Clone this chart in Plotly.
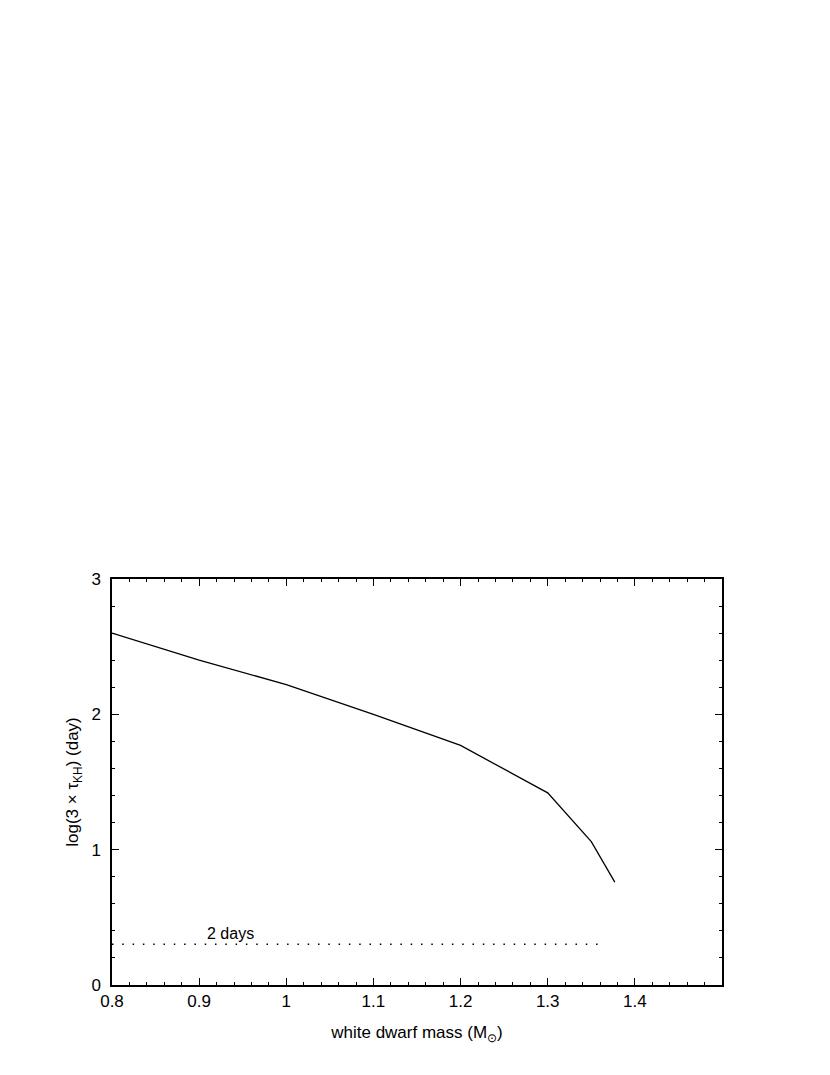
import plotly.graph_objects as go

# white dwarf mass (Msun) vs log(3 x tau_KH) in days
mass = [0.8, 0.9, 1.0, 1.1, 1.2, 1.3, 1.35, 1.377]
log_tkh = [2.6, 2.40, 2.22, 2.0, 1.77, 1.42, 1.06, 0.76]

# "2 days" reference level
ref_x = [0.8, 1.36]
ref_y = [0.301, 0.301]
ref_label = "2 days"

x_ticks = [0.8, 0.9, 1.0, 1.1, 1.2, 1.3, 1.4]
x_ticklabels = ["0.8", "0.9", "1", "1.1", "1.2", "1.3", "1.4"]
y_ticks = [0, 1, 2, 3]

FONT = "Liberation Sans, Arial, sans-serif"

fig = go.Figure()
fig.add_trace(go.Scatter(
    x=mass, y=log_tkh, mode="lines",
    line=dict(color="black", width=1.3),
    showlegend=False, hoverinfo="skip"
))
fig.add_trace(go.Scatter(
    x=ref_x, y=ref_y, mode="lines",
    line=dict(color="black", width=1.3, dash="1.5px,8.8px"),
    showlegend=False, hoverinfo="skip"
))
fig.add_annotation(
    x=0.936, y=0.38, text=ref_label, showarrow=False,
    font=dict(family=FONT, size=16, color="black")
)

axis_common = dict(
    showgrid=False, zeroline=False,
    showline=True, linecolor="black", linewidth=1.5,
    mirror="allticks", ticks="inside", tickcolor="black",
    tickwidth=1.2, ticklen=7,
    tickfont=dict(family=FONT, size=17, color="black"),
    minor=dict(ticks="inside", ticklen=3.5, tickwidth=1.2, tickcolor="black"),
)

fig.update_xaxes(
    range=[0.8, 1.5], tickvals=x_ticks, ticktext=x_ticklabels,
    minor_dtick=0.02,
    title=dict(text="white dwarf mass (M<sub>⊙</sub>)",
               font=dict(family=FONT, size=17, color="black"), standoff=16),
    **axis_common
)
fig.update_yaxes(
    range=[0, 3], tickvals=y_ticks,
    minor_dtick=0.2,
    ticklabelstandoff=6,
    title=dict(text="log(3 × τ<sub>KH</sub>) (day)",
               font=dict(family=FONT, size=17, color="black"), standoff=8),
    **axis_common
)

# page body adds an 8px offset, so margins are shifted to keep the frame in place
fig.update_layout(
    width=830, height=1075,
    margin=dict(l=104, r=116, t=571, b=98),
    plot_bgcolor="white", paper_bgcolor="white",
)

fig.write_html("out.html")
